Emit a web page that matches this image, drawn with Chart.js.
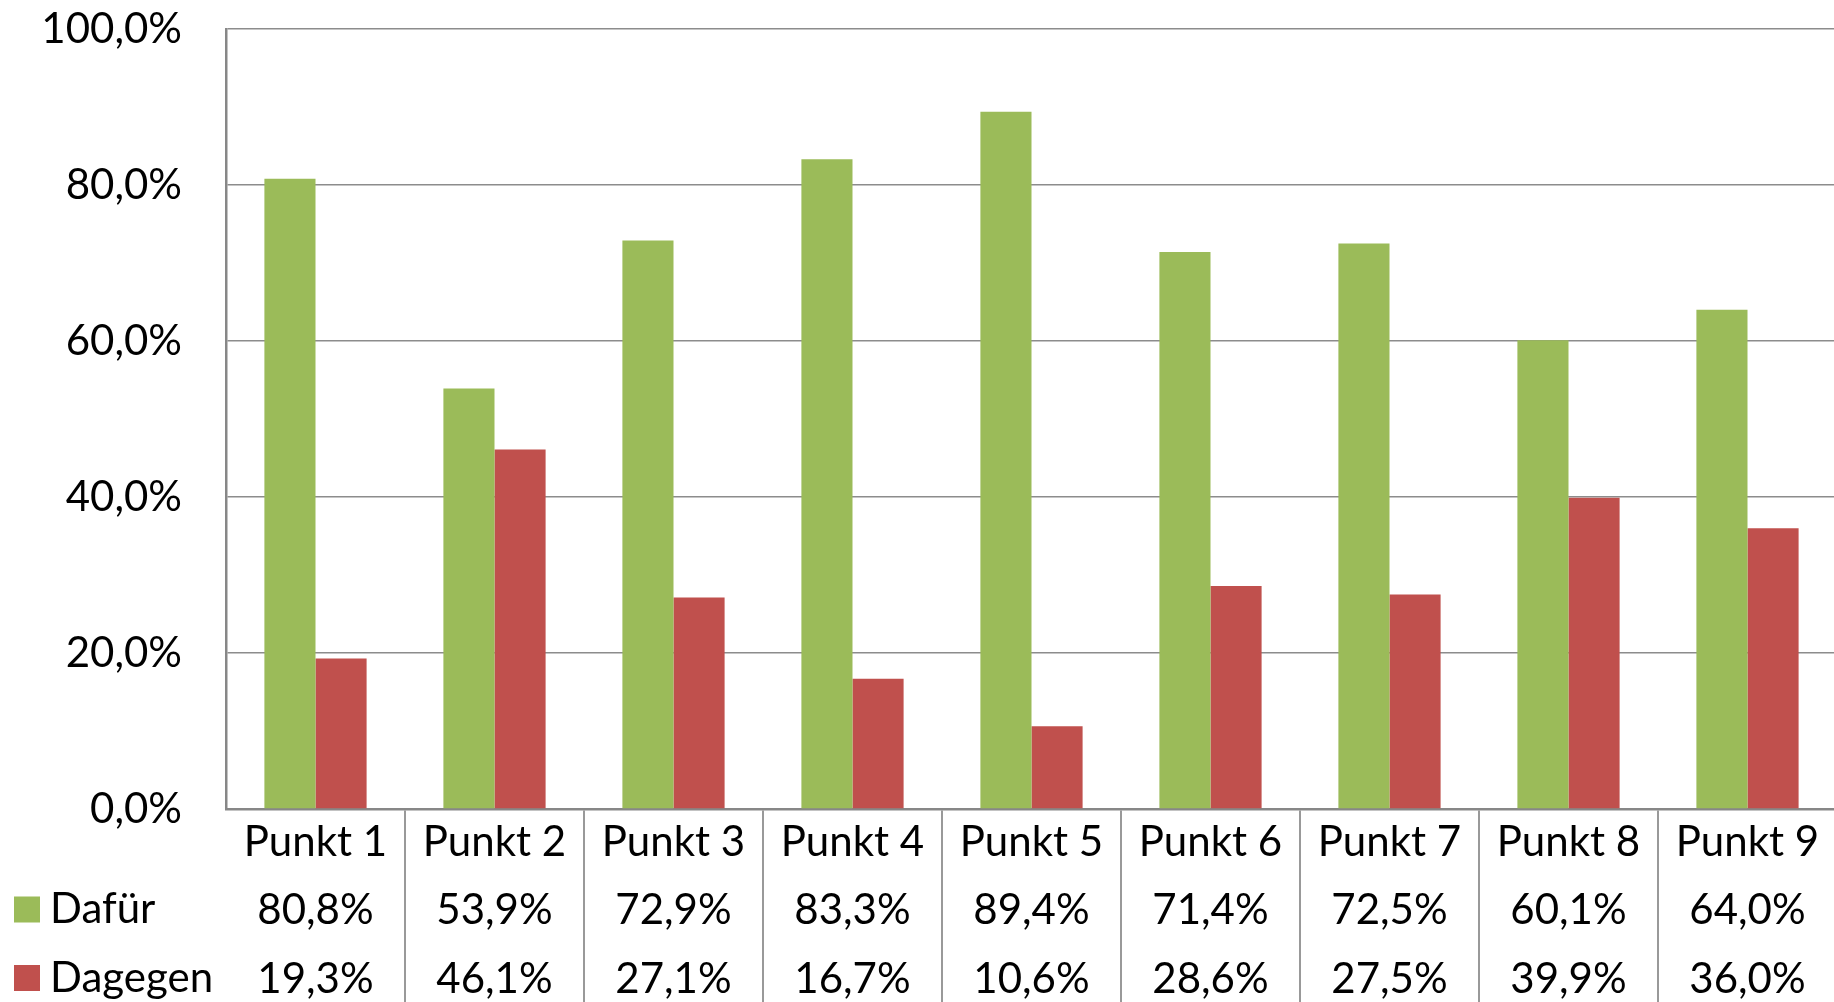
<!DOCTYPE html>
<html>
<head>
<meta charset="utf-8">
<script src="https://cdn.jsdelivr.net/npm/chart.js@4.4.1/dist/chart.umd.min.js"></script>
<style>
  html, body { margin: 0; padding: 0; background: #fff; overflow: hidden; }
  canvas { display: block; }
</style>
</head>
<body>
<!-- a few px wider than the window: the plot area runs past the right edge, as in the original -->
<canvas id="chart" width="1837" height="1002"></canvas>
<script>
const categories = ['Punkt 1', 'Punkt 2', 'Punkt 3', 'Punkt 4', 'Punkt 5', 'Punkt 6', 'Punkt 7', 'Punkt 8', 'Punkt 9'];
const dafuer = [80.8, 53.9, 72.9, 83.3, 89.4, 71.4, 72.5, 60.1, 64.0];
const dagegen = [19.3, 46.1, 27.1, 16.7, 10.6, 28.6, 27.5, 39.9, 36.0];
const seriesNames = ['Dafür', 'Dagegen'];

const FONT = 'Lato';
const ROW_H = 68.5;
const TABLE_H = 193;

function pct(v) {
  return v.toFixed(1).replace('.', ',') + '%';
}

// legend keys on the left of the data table rows
const tableLegend = {
  id: 'tableLegend',
  afterDraw(chart) {
    const ctx = chart.ctx;
    const top = chart.chartArea.bottom;
    ctx.save();
    ctx.font = '42px ' + FONT;
    ctx.textBaseline = 'middle';
    ctx.textAlign = 'left';
    chart.data.datasets.forEach((ds, i) => {
      const cy = top + 32 + ROW_H * (i + 1);
      ctx.fillStyle = ds.backgroundColor;
      ctx.fillRect(14, cy - 13, 26, 26);
      ctx.fillStyle = '#000';
      ctx.fillText(ds.label, 50, cy);
    });
    ctx.restore();
  }
};

new Chart(document.getElementById('chart'), {
  type: 'bar',
  data: {
    labels: categories,
    datasets: [
      { label: seriesNames[0], data: dafuer, backgroundColor: '#9BBB59' },
      { label: seriesNames[1], data: dagegen, backgroundColor: '#C0504D' }
    ]
  },
  options: {
    responsive: false,
    animation: false,
    layout: { padding: { top: 29, right: 0, bottom: 0, left: 0 } },
    datasets: { bar: { categoryPercentage: 0.571, barPercentage: 1 } },
    plugins: { legend: { display: false }, tooltip: { enabled: false } },
    scales: {
      x: {
        afterFit(scale) {
          scale.height = TABLE_H;
          scale.paddingLeft = 0;
          scale.paddingRight = 0;
        },
        border: { display: true, color: '#878787', width: 2.5 },
        grid: {
          drawOnChartArea: false,
          drawTicks: true,
          tickLength: TABLE_H,
          lineWidth: 2,
          color: ctx => ctx.index === 0 ? 'rgba(0,0,0,0)' : '#999999'
        },
        ticks: {
          color: '#000',
          padding: -TABLE_H - 1,
          maxRotation: 0,
          autoSkip: false,
          font: { family: FONT, size: 42, lineHeight: ROW_H / 42 },
          callback: (v, i) => [categories[i], pct(dafuer[i]), pct(dagegen[i])]
        }
      },
      y: {
        min: 0,
        max: 100,
        afterFit(scale) {
          scale.width = 226;
          scale.paddingTop = 0;
          scale.paddingBottom = 0;
        },
        border: { display: true, color: '#878787', width: 2.5 },
        grid: { color: '#8c8c8c', lineWidth: 1.5, drawTicks: false },
        ticks: {
          stepSize: 20,
          color: '#000',
          padding: 44,
          font: { family: FONT, size: 42 },
          callback: v => pct(v)
        }
      }
    }
  },
  plugins: [tableLegend]
});
</script>
</body>
</html>
